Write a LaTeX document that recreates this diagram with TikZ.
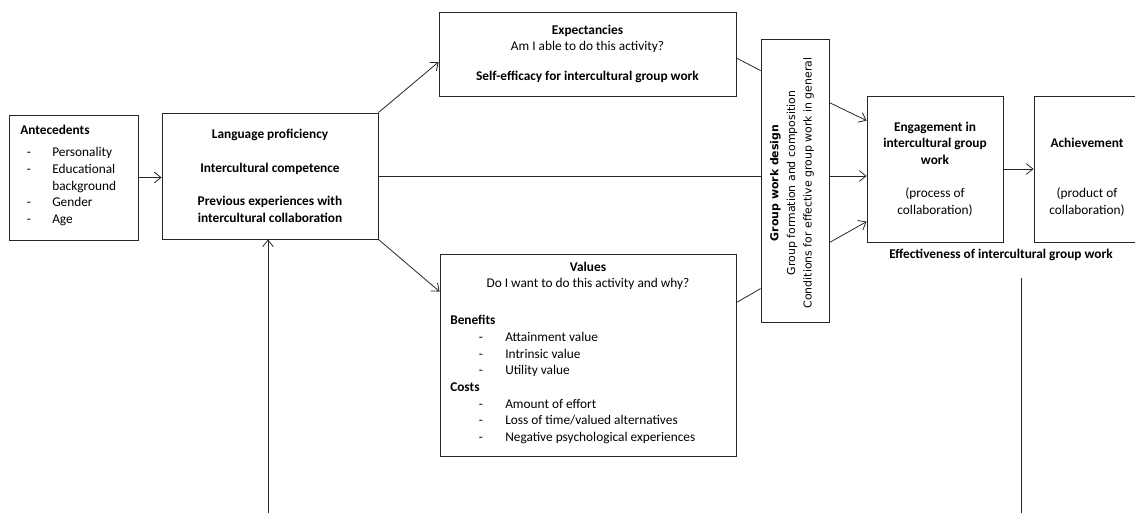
\documentclass[tikz,border=0pt]{standalone}
\usepackage{fontspec}
\setmainfont{Carlito}
\newfontfamily\vfont{DejaVu Sans}
\usetikzlibrary{positioning,calc,arrows.meta}
\tikzset{
  box/.style 2 args={draw=black!85,line width=0.6pt,rectangle,align=center,inner sep=0pt,
    minimum width=#1*0.75pt,minimum height=#2*0.75pt},
  ln/.style={draw=black!85,line width=0.6pt},
  arr/.style={ln,-{Straight Barb[length=5pt,width=8pt]}}
}

\begin{document}
\begin{tikzpicture}[x=0.75pt,y=-0.75pt,
  every node/.style={font=\fontsize{10}{12.5}\selectfont}]
  \useasboundingbox (0,0) rectangle (1135,513);

  \node[box={129}{125}] (ante) at (73.5,177.5) {};
  \node[anchor=north west,inner sep=0pt] (antetxt) at (20,123)
    {\begin{tabular}{@{\hspace{5pt}}p{19pt}@{}l@{}}
      \multicolumn{2}{@{}l@{}}{\textbf{Antecedents}}\\[4pt]
      - & Personality\\
      - & Educational\\
        & background\\
      - & Gender\\
      - & Age
    \end{tabular}};

  \node[box={216}{126}] (lang) at (270,176)
    {\textbf{Language proficiency}\\[12.5pt]
     \textbf{Intercultural competence}\\[12.5pt]
     \textbf{Previous experiences with}\\
     \textbf{intercultural collaboration}};

  \node[box={297}{84}] (expc) at (587.5,54)
    {\textbf{Expectancies}\\
     Am I able to do this activity?\\[10pt]
     \textbf{Self-efficacy for intercultural group work}};

  \node[box={296}{202}] (val) at (588,355) {};
  \node[anchor=north,align=center] (valhead) at (588,257)
    {\textbf{Values}\\Do I want to do this activity and why?};
  \node[anchor=north west,inner sep=0pt] (vallist) at (450,313)
    {\begin{tabular}{@{\hspace{21.5pt}}p{19.75pt}@{}l@{}}
      \multicolumn{2}{@{}l@{}}{\textbf{Benefits}}\\
      - & Attainment value\\
      - & Intrinsic value\\
      - & Utility value\\
      \multicolumn{2}{@{}l@{}}{\textbf{Costs}}\\
      - & Amount of effort\\
      - & Loss of time/valued alternatives\\
      - & Negative psychological experiences
    \end{tabular}};

  \node[box={68}{283}] (grp) at (795,180.5) {};
  \node[rotate=90,align=center,font=\vfont\fontsize{8.2}{12.4}\selectfont] (grptxt) at (792,183)
    {\textbf{Group work design}\\
     Group formation and composition\\
     Conditions for effective group work in general};

  \node[box={136}{146}] (eng) at (935,169)
    {\textbf{Engagement in}\\
     \textbf{intercultural group}\\
     \textbf{work}\\[12.5pt]
     (process of\\
     collaboration)};

  \node[box={106}{146}] (ach) at (1087,169) {};
  \node[align=center] (achtxt) at (1087,177)
    {\textbf{Achievement}\\[25pt]
     (product of\\
     collaboration)};

  \node (eff) at (1001,255) {\textbf{Effectiveness of intercultural group work}};

  \coordinate (fbl) at (268,513);
  \coordinate (fbrtop) at (1021,278);
  \coordinate (fbrbot) at (1021,513);

  \draw[arr] (ante.east) -- (ante.east -| lang.west);
  \draw[arr] (lang.north east) -- ($(expc.west)+(0,8)$);
  \draw[arr] (lang.south east) -- ($(val.north west)+(0,38)$);
  \draw[ln] ($(expc.east)+(0,4)$) -- ($(grp.north west)+(0,32)$);
  \draw[ln] ($(val.north east)+(0,49)$) -- ($(grp.north west)+(0,250)$);
  \draw[ln] (lang.east) -- (lang.east -| grp.west);
  \draw[arr] ($(grp.north east)+(0,64)$) -- ($(eng.north west)+(0,25)$);
  \draw[arr] (grp.east |- lang.east) -- (eng.west |- lang.east);
  \draw[arr] ($(grp.north east)+(0,204)$) -- ($(eng.north west)+(0,126)$);
  \draw[arr] (eng.east) -- (ach.west);
  \draw[arr] (fbl) -- (fbl |- lang.south);
  \draw[ln] (fbrtop) -- (fbrbot);
\end{tikzpicture}
\end{document}
